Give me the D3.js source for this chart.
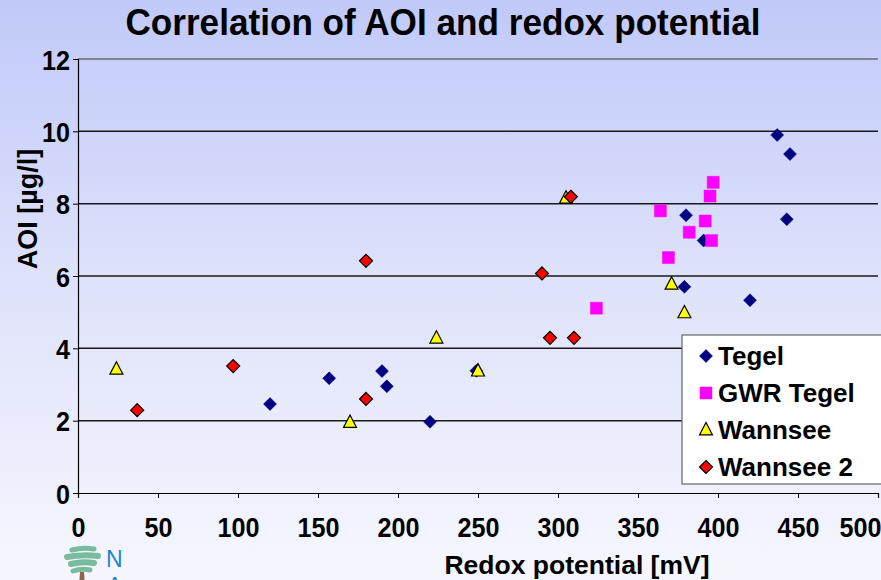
<!DOCTYPE html>
<html>
<head>
<meta charset="utf-8">
<script src="https://cdn.jsdelivr.net/npm/d3@7"></script>
<style>
  html, body { margin: 0; padding: 0; overflow: hidden; }
  svg { display: block; font-family: "Liberation Sans", Arial, sans-serif; font-weight: bold; }
</style>
</head>
<body>
<svg id="chart" width="881" height="580"></svg>
<script>
// Redox potential [mV] and AOI [µg/l] per sampling series
const tegelX = [120, 157, 190, 193, 220, 249, 380, 379, 391, 420, 437, 445, 443];
const tegelY = [2.46, 3.17, 3.37, 2.95, 1.97, 3.38, 7.68, 5.70, 6.98, 5.33, 9.90, 9.37, 7.57];

const gwrX = [324, 364, 382, 369, 392, 396, 395, 397];
const gwrY = [5.11, 7.80, 7.21, 6.51, 7.52, 6.98, 8.21, 8.59];

const wannseeX = [24, 170, 224, 250, 305, 371, 379];
const wannseeY = [3.42, 1.95, 4.28, 3.37, 8.15, 5.77, 4.98];

const wannsee2X = [37, 97, 180, 180, 308, 290, 295, 310];
const wannsee2Y = [2.29, 3.51, 2.60, 6.42, 8.19, 6.07, 4.29, 4.29];

const seriesNames = ["Tegel", "GWR Tegel", "Wannsee", "Wannsee 2"];
const xTicks = [0, 50, 100, 150, 200, 250, 300, 350, 400, 450, 500];
const yTicks = [0, 2, 4, 6, 8, 10, 12];

const svg = d3.select("#chart");

// background wash
const defs = svg.append("defs");
const grad = defs.append("linearGradient").attr("id", "bg")
  .attr("x1", 0).attr("y1", 0).attr("x2", 0).attr("y2", 1);
grad.append("stop").attr("offset", "0%").attr("stop-color", "#c1c9f9");
grad.append("stop").attr("offset", "50%").attr("stop-color", "#dfe3fb");
grad.append("stop").attr("offset", "100%").attr("stop-color", "#f6f7fe");
svg.append("rect").attr("width", 881).attr("height", 580).attr("fill", "url(#bg)");

const x = d3.scaleLinear().domain([0, 500]).range([78, 878]);
const y = d3.scaleLinear().domain([0, 12]).range([493, 59]);

// slightly condensed bold lettering
const NARROW = 0.9;

// title
svg.append("text").attr("transform", "translate(443,35) scale(0.95,1)").attr("text-anchor", "middle")
  .attr("font-size", 37).attr("fill", "#000")
  .text("Correlation of AOI and redox potential");

// horizontal gridlines
svg.append("g").selectAll("line").data(yTicks.filter(d => d > 0)).join("line")
  .attr("x1", x(0)).attr("x2", x(500))
  .attr("y1", d => y(d)).attr("y2", d => y(d))
  .attr("stroke", d => d === 12 ? "#6a6a6a" : "#1a1a1a").attr("stroke-width", 1.5);

// y axis
const yAxis = svg.append("g").attr("transform", `translate(${x(0)},0)`)
  .call(d3.axisLeft(y).tickValues(yTicks).tickSize(5).tickFormat(d3.format("d")));
yAxis.select(".domain").attr("stroke", "#000").attr("stroke-width", 1.2);
yAxis.selectAll(".tick line").attr("stroke", "#000");
yAxis.selectAll(".tick text")
  .attr("x", null).attr("dy", null)
  .attr("transform", `translate(-8,10) scale(${NARROW},1)`)
  .attr("font-size", 28).attr("font-family", "Liberation Sans, Arial")
  .attr("font-weight", "bold").attr("fill", "#000");

// x axis
const xAxis = svg.append("g").attr("transform", `translate(0,${y(0)})`)
  .call(d3.axisBottom(x).tickValues(xTicks).tickSize(5).tickFormat(d3.format("d")));
xAxis.select(".domain").attr("stroke", "#000").attr("stroke-width", 1.2);
xAxis.selectAll(".tick line").attr("stroke", "#000");
xAxis.selectAll(".tick text")
  .attr("y", null).attr("dy", null)
  .attr("text-anchor", d => d === 500 ? "end" : "middle")
  .attr("transform", d => `translate(${d === 500 ? 3 : 0},44) scale(${NARROW},1)`)
  .attr("font-size", 28).attr("font-family", "Liberation Sans, Arial")
  .attr("font-weight", "bold").attr("fill", "#000");

// axis titles
svg.append("text").attr("x", 577).attr("y", 574).attr("text-anchor", "middle")
  .attr("font-size", 26.5).attr("fill", "#000").text("Redox potential [mV]");
svg.append("text").attr("transform", "translate(37,209) rotate(-90)")
  .attr("text-anchor", "middle").attr("font-size", 27).attr("fill", "#000").text("AOI [µg/l]");

// marker shapes
const diamond = r => `M0,${-r}L${r},0L0,${r}L${-r},0Z`;
const square = r => `M${-r},${-r}H${r}V${r}H${-r}Z`;
const triangle = r => `M0,${-r * 1.15}L${r},${r * 0.75}L${-r},${r * 0.75}Z`;

const series = [
  { xs: tegelX, ys: tegelY, path: diamond(6.5), fill: "#000080", stroke: "#000080", sw: 0.5 },
  { xs: gwrX, ys: gwrY, path: square(6), fill: "#ff00ff", stroke: "#ff00ff", sw: 0.5 },
  { xs: wannseeX, ys: wannseeY, path: triangle(6.5), fill: "#ffff00", stroke: "#000", sw: 1.2 },
  { xs: wannsee2X, ys: wannsee2Y, path: diamond(6.5), fill: "#ff0000", stroke: "#000", sw: 1.2 }
];

series.forEach(s => {
  svg.append("g").selectAll("path").data(d3.range(s.xs.length)).join("path")
    .attr("transform", i => `translate(${x(s.xs[i])},${y(s.ys[i])})`)
    .attr("d", s.path).attr("fill", s.fill).attr("stroke", s.stroke).attr("stroke-width", s.sw);
});

// legend
const legend = svg.append("g").attr("transform", "translate(682,335)");
legend.append("rect").attr("width", 210).attr("height", 149)
  .attr("fill", "#fff").attr("stroke", "#666").attr("stroke-width", 1.2);
seriesNames.forEach((name, i) => {
  const row = legend.append("g").attr("transform", `translate(0,${21 + i * 37})`);
  row.append("path").attr("transform", "translate(24,0)").attr("d", series[i].path)
    .attr("fill", series[i].fill).attr("stroke", series[i].stroke).attr("stroke-width", series[i].sw);
  row.append("text").attr("x", 36).attr("y", 0).attr("dy", "0.36em")
    .attr("font-size", 26).attr("fill", "#000").text(name);
});

// institute logo, bottom left
const logo = svg.append("g").attr("transform", "translate(64,546)");
logo.append("path").attr("d", "M16,26 L15,40 L21,40 L20,26 Z").attr("fill", "#8a6a4a");
[[8, 4, 30, 3, 5], [3, 11, 34, 10, 6], [7, 18, 30, 17, 6], [9, 25, 26, 24, 5]].forEach(([x0, y0, x1, y1, w]) => {
  logo.append("path").attr("d", `M${x0},${y0} Q${(x0 + x1) / 2},${y0 - 3} ${x1},${y1}`)
    .attr("fill", "none").attr("stroke", "#6bb593").attr("stroke-width", w).attr("stroke-linecap", "round")
    .attr("opacity", 0.9);
});
svg.append("text").attr("x", 106).attr("y", 567).attr("font-size", 23)
  .attr("fill", "#1f86d1").attr("font-weight", "normal").text("N");
svg.append("text").attr("x", 107).attr("y", 594).attr("font-size", 23)
  .attr("fill", "#1f86d1").attr("font-weight", "normal").text("A");
</script>
</body>
</html>
